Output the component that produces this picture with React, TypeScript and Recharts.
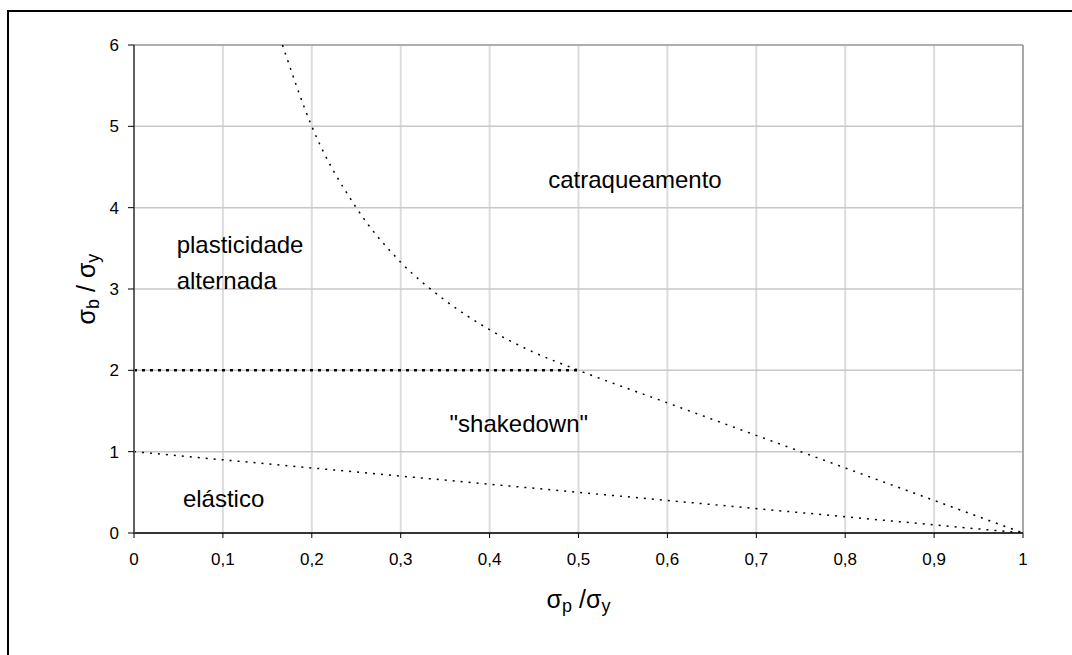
import React from 'react';
import {
  LineChart, Line, XAxis, YAxis, CartesianGrid, ReferenceDot, ReferenceLine,
} from 'recharts';

// limite de catraqueamento
const ratchetX = [0.167, 0.2, 0.25, 0.3, 0.35, 0.4, 0.45, 0.5, 0.6, 0.7, 0.8, 0.9, 1];
const ratchetY = [6, 5, 4, 3.33, 2.86, 2.5, 2.22, 2, 1.6, 1.2, 0.8, 0.4, 0];

// limite elástico
const elasticX = [0, 1];
const elasticY = [1, 0];

// limite de plasticidade alternada
const alternX = [0, 0.5];
const alternY = [2, 2];

const xTicks = [0, 0.1, 0.2, 0.3, 0.4, 0.5, 0.6, 0.7, 0.8, 0.9, 1];
const yTicks = [0, 1, 2, 3, 4, 5, 6];

const regionLabels = [
  { x: 0.466, y: 4.24, text: 'catraqueamento' },
  { x: 0.048, y: 3.44, text: 'plasticidade' },
  { x: 0.048, y: 3.0, text: 'alternada' },
  { x: 0.355, y: 1.24, text: '"shakedown"' },
  { x: 0.055, y: 0.32, text: 'elástico' },
];

const zip = (xs: number[], ys: number[]) => xs.map((x, i) => ({ x, y: ys[i] }));

const FONT = '"Liberation Sans", Arial, sans-serif';

function XLabel(props: any) {
  const { viewBox } = props;
  const cx = viewBox.x + viewBox.width / 2;
  return (
    <text x={cx} y={viewBox.y + 75} textAnchor="middle" fontSize={25} fill="#000" fontFamily={FONT}>
      σ<tspan fontSize={18} dy={4}>p</tspan>
      <tspan dy={-4}> /σ</tspan>
      <tspan fontSize={18} dy={4}>y</tspan>
    </text>
  );
}

function YLabel(props: any) {
  const { viewBox } = props;
  const cx = 86;
  const cy = viewBox.y + viewBox.height / 2;
  return (
    <text x={cx} y={cy} textAnchor="middle" fontSize={25} fill="#000" fontFamily={FONT}
      transform={`rotate(-90 ${cx} ${cy})`}>
      σ<tspan fontSize={18} dy={4}>b</tspan>
      <tspan dy={-4}> / σ</tspan>
      <tspan fontSize={18} dy={4}>y</tspan>
    </text>
  );
}

export default function App() {
  return (
    <div style={{ position: 'fixed', left: 0, top: 0, width: 1072, height: 655, overflow: 'hidden', background: '#fff' }}>
      <div style={{ position: 'absolute', left: 7, top: 10, width: 1200, height: 800, border: '2px solid #000', boxSizing: 'border-box' }}>
        <LineChart width={1060} height={640} margin={{ top: 33, right: 46, bottom: 79, left: 60 }}>
          <CartesianGrid horizontal={false} stroke="#dcdcdc" strokeWidth={2} />
          <CartesianGrid vertical={false} stroke="#c8c8c8" strokeWidth={1.5} />
          <XAxis
            dataKey="x" type="number" domain={[0, 1]} ticks={xTicks} allowDataOverflow
            tickFormatter={(v: number) => String(v).replace('.', ',')}
            tick={{ fontSize: 17, fill: '#000', fontFamily: FONT }}
            axisLine={{ stroke: '#000', strokeWidth: 1.5 }} tickLine={{ stroke: '#000' }}
            tickSize={5} tickMargin={15} height={40}
            label={<XLabel />}
          />
          <YAxis
            dataKey="y" type="number" domain={[0, 6]} ticks={yTicks} allowDataOverflow
            tick={{ fontSize: 17, fill: '#000', fontFamily: FONT }}
            axisLine={{ stroke: '#606060', strokeWidth: 2 }} tickLine={{ stroke: '#000' }}
            tickSize={6} tickMargin={9} width={65}
            label={<YLabel />}
          />
          <ReferenceLine y={6} stroke="#a0a0a0" strokeWidth={1.5} />
          <ReferenceLine x={1} stroke="#a8a8a8" strokeWidth={2} />
          <Line data={zip(ratchetX, ratchetY)} dataKey="y" type="monotone" stroke="#000" strokeWidth={1.5}
            strokeDasharray="2 6" dot={false} isAnimationActive={false} />
          <Line data={zip(elasticX, elasticY)} dataKey="y" type="linear" stroke="#000" strokeWidth={1.5}
            strokeDasharray="2 6" dot={false} isAnimationActive={false} />
          <Line data={zip(alternX, alternY)} dataKey="y" type="linear" stroke="#000" strokeWidth={2.5}
            strokeDasharray="3 5" dot={false} isAnimationActive={false} />
          {regionLabels.map((l) => (
            <ReferenceDot key={l.text} x={l.x} y={l.y} r={0}
              shape={(p: any) => (
                <text x={p.cx} y={p.cy} fontSize={24} fill="#000" fontFamily={FONT}>{l.text}</text>
              )}
            />
          ))}
        </LineChart>
      </div>
    </div>
  );
}
